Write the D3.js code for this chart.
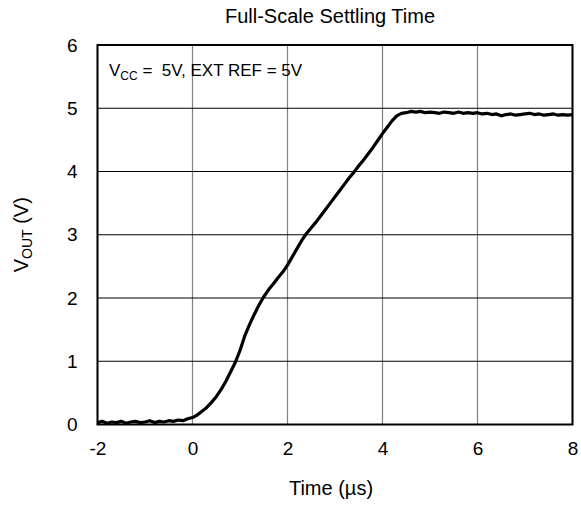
<!DOCTYPE html>
<html>
<head>
<meta charset="utf-8">
<script src="https://cdn.jsdelivr.net/npm/d3@7"></script>
<style>
  body { margin: 0; background: #fff; }
  svg { display: block; font-family: Arial, "Liberation Sans", sans-serif; }
</style>
</head>
<body>
<div id="chart"></div>
<script>
// chart values
var timeUs = [-2.0, -1.9, -1.8, -1.7, -1.6, -1.5, -1.4, -1.3, -1.2, -1.1,
  -1.0, -0.9, -0.8, -0.7, -0.6, -0.5, -0.4, -0.3, -0.2, -0.1,
  0.0, 0.1, 0.2, 0.3, 0.4, 0.5, 0.6, 0.7, 0.8, 0.9,
  1.0, 1.1, 1.2, 1.3, 1.4, 1.5, 1.6, 1.7, 1.8, 1.9,
  2.0, 2.1, 2.2, 2.3, 2.4, 2.5, 2.6, 2.7, 2.8, 2.9,
  3.0, 3.1, 3.2, 3.3, 3.4, 3.5, 3.6, 3.7, 3.8, 3.9,
  4.0, 4.1, 4.2, 4.3, 4.4, 4.5, 4.6, 4.7, 4.8, 4.9,
  5.0, 5.1, 5.2, 5.3, 5.4, 5.5, 5.6, 5.7, 5.8, 5.9,
  6.0, 6.1, 6.2, 6.3, 6.4, 6.5, 6.6, 6.7, 6.8, 6.9,
  7.0, 7.1, 7.2, 7.3, 7.4, 7.5, 7.6, 7.7, 7.8, 7.9, 8.0];
var vout = [0.03, 0.05, 0.02, 0.04, 0.03, 0.05, 0.02, 0.04, 0.05, 0.03,
  0.04, 0.06, 0.03, 0.05, 0.04, 0.06, 0.05, 0.07, 0.06, 0.09,
  0.11, 0.15, 0.21, 0.27, 0.35, 0.44, 0.55, 0.68, 0.83, 0.98,
  1.17, 1.40, 1.58, 1.74, 1.89, 2.02, 2.13, 2.22, 2.32, 2.41,
  2.52, 2.65, 2.78, 2.91, 3.02, 3.11, 3.20, 3.30, 3.40, 3.50,
  3.60, 3.70, 3.80, 3.90, 3.99, 4.09, 4.18, 4.28, 4.38, 4.49,
  4.60, 4.70, 4.80, 4.88, 4.92, 4.93, 4.95, 4.94, 4.95, 4.93,
  4.94, 4.93, 4.92, 4.94, 4.93, 4.92, 4.94, 4.92, 4.93, 4.92,
  4.93, 4.91, 4.92, 4.90, 4.91, 4.88, 4.90, 4.91, 4.89, 4.90,
  4.91, 4.92, 4.90, 4.91, 4.89, 4.90, 4.91, 4.89, 4.90, 4.89, 4.90];
var xTicks = [-2, 0, 2, 4, 6, 8];
var yTicks = [0, 1, 2, 3, 4, 5, 6];

var svgWidth = 581;
var svgHeight = 507;

var margin = { top: 45, right: 8.5, bottom: 82.5, left: 97.5 };
var width = svgWidth - margin.left - margin.right;
var height = svgHeight - margin.top - margin.bottom;

var svg = d3.select("#chart")
  .append("svg")
  .attr("width", svgWidth)
  .attr("height", svgHeight);

var chartGroup = svg.append("g")
  .attr("transform", `translate(${margin.left}, ${margin.top})`);

var xScale = d3.scaleLinear().domain([-2, 8]).range([0, width]);
var yScale = d3.scaleLinear().domain([0, 6]).range([height, 0]);

// vertical grid (grey)
chartGroup.selectAll(".vgrid")
  .data(xTicks)
  .enter()
  .append("line")
  .attr("x1", d => xScale(d))
  .attr("x2", d => xScale(d))
  .attr("y1", 0)
  .attr("y2", height)
  .attr("stroke", "#808080")
  .attr("stroke-width", 1.2);

// horizontal grid (black)
chartGroup.selectAll(".hgrid")
  .data(yTicks)
  .enter()
  .append("line")
  .attr("x1", 0)
  .attr("x2", width)
  .attr("y1", d => yScale(d))
  .attr("y2", d => yScale(d))
  .attr("stroke", "#000")
  .attr("stroke-width", 1);

// axes: labels only, plain hyphen for negatives
var bottomAxis = d3.axisBottom(xScale).tickValues(xTicks).tickSize(0).tickPadding(17)
  .tickFormat(d => String(d));
var leftAxis = d3.axisLeft(yScale).tickValues(yTicks).tickSize(0).tickPadding(20)
  .tickFormat(d => String(d));

var xAxis = chartGroup.append("g")
  .attr("transform", `translate(0, ${height})`)
  .call(bottomAxis);
var yAxis = chartGroup.append("g").call(leftAxis);

[xAxis, yAxis].forEach(function (ax) {
  ax.select(".domain").remove();
  ax.selectAll("text")
    .style("font-family", "Arial, 'Liberation Sans', sans-serif")
    .style("font-size", "19px")
    .attr("fill", "#000");
});

// trace
var traceLine = d3.line()
  .x((d, i) => xScale(timeUs[i]))
  .y(d => yScale(d));

chartGroup.append("path")
  .datum(vout)
  .attr("d", traceLine)
  .attr("fill", "none")
  .attr("stroke", "#000")
  .attr("stroke-width", 3.2)
  .attr("stroke-linejoin", "round");

// frame
chartGroup.append("rect")
  .attr("x", 0)
  .attr("y", 0)
  .attr("width", width)
  .attr("height", height)
  .attr("fill", "none")
  .attr("stroke", "#000")
  .attr("stroke-width", 2);

// annotation
var note = chartGroup.append("text")
  .attr("x", 11.5)
  .attr("y", 31)
  .style("font-size", "17px")
  .attr("fill", "#000");
note.append("tspan").text("V");
note.append("tspan").attr("dy", 4).style("font-size", "12px").text("CC");
note.append("tspan").attr("dy", -4).attr("xml:space", "preserve").text(" =  5V, EXT REF = 5V");

// title
svg.append("text")
  .attr("x", 330)
  .attr("y", 23)
  .attr("text-anchor", "middle")
  .style("font-size", "20px")
  .text("Full-Scale Settling Time");

// x label
svg.append("text")
  .attr("x", 331)
  .attr("y", 495)
  .attr("text-anchor", "middle")
  .style("font-size", "20px")
  .text("Time (\u00b5s)");

// y label
var yLabel = svg.append("text")
  .attr("transform", `translate(28, ${margin.top + height / 2}) rotate(-90)`)
  .attr("text-anchor", "middle")
  .style("font-size", "20px");
yLabel.append("tspan").text("V");
yLabel.append("tspan").attr("dy", 4).style("font-size", "14px").text("OUT");
yLabel.append("tspan").attr("dy", -4).text(" (V)");
</script>
</body>
</html>
